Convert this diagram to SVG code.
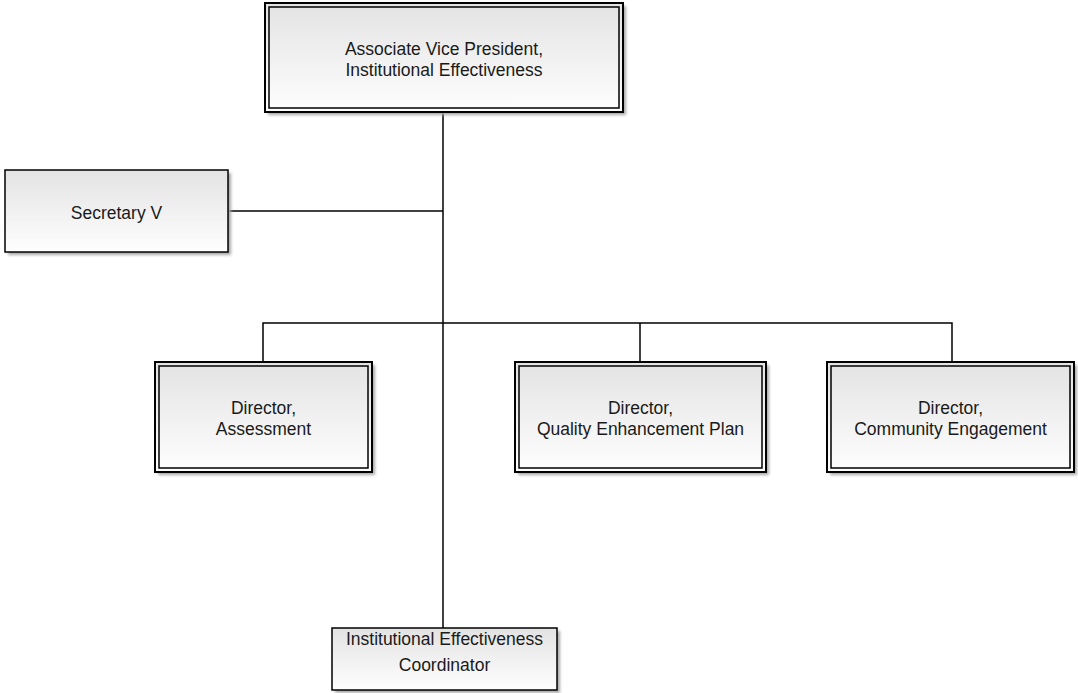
<svg xmlns="http://www.w3.org/2000/svg" width="1078" height="693" viewBox="0 0 1078 693">
<defs>
<linearGradient id="fill" x1="0" y1="0" x2="0" y2="1">
<stop offset="0" stop-color="#e3e3e3"/>
<stop offset="1" stop-color="#fefefe"/>
</linearGradient>
<filter id="blur" x="-10%" y="-10%" width="120%" height="130%">
<feGaussianBlur stdDeviation="1.5"/>
</filter>
<style>
.shadow{fill:#a8a8a8;filter:url(#blur)}
.box{fill:url(#fill);stroke:#000;stroke-width:2}
.inner{fill:none;stroke:#000;stroke-width:1.5}
.single{fill:url(#fill);stroke:#000;stroke-width:1.5}
.conn{fill:none;stroke:#000;stroke-width:1.5}
text{font-family:"Liberation Sans",Arial,sans-serif;font-size:17.5px;fill:#1a1a1a;text-anchor:middle}
</style>
</defs>
<rect width="1078" height="693" fill="#fff"/>
<g id="connectors">
<line class="conn" x1="443" y1="112" x2="443" y2="628"/>
<line class="conn" x1="228" y1="211" x2="443" y2="211"/>
<polyline class="conn" points="263,362 263,323 952,323 952,362"/>
<line class="conn" x1="640" y1="323" x2="640" y2="362"/>
</g>
<g id="avp">
<rect class="shadow" x="268" y="6" width="358" height="109"/>
<rect class="box" x="265" y="3" width="358" height="109"/>
<rect class="inner" x="269" y="7" width="350" height="101"/>
<text x="444" y="55">Associate Vice President,</text>
<text x="444" y="76">Institutional Effectiveness</text>
</g>
<g id="secretary">
<rect class="shadow" x="8" y="173" width="223" height="82"/>
<rect class="single" x="5" y="170" width="223" height="82"/>
<text x="116.5" y="219">Secretary V</text>
</g>
<g id="dir-assessment">
<rect class="shadow" x="158" y="365" width="217" height="110"/>
<rect class="box" x="155" y="362" width="217" height="110"/>
<rect class="inner" x="159" y="366" width="209" height="102"/>
<text x="263.5" y="414">Director,</text>
<text x="263.5" y="435">Assessment</text>
</g>
<g id="dir-qep">
<rect class="shadow" x="518" y="365" width="251" height="110"/>
<rect class="box" x="515" y="362" width="251" height="110"/>
<rect class="inner" x="519" y="366" width="243" height="102"/>
<text x="640.5" y="414">Director,</text>
<text x="640.5" y="435">Quality Enhancement Plan</text>
</g>
<g id="dir-community">
<rect class="shadow" x="830" y="365" width="247" height="110"/>
<rect class="box" x="827" y="362" width="247" height="110"/>
<rect class="inner" x="831" y="366" width="239" height="102"/>
<text x="950.5" y="414">Director,</text>
<text x="950.5" y="435">Community Engagement</text>
</g>
<g id="coordinator">
<rect class="shadow" x="335" y="631" width="225" height="62"/>
<rect class="single" x="332" y="628" width="225" height="62"/>
<text x="444.5" y="645">Institutional Effectiveness</text>
<text x="444.5" y="671">Coordinator</text>
</g>
</svg>
